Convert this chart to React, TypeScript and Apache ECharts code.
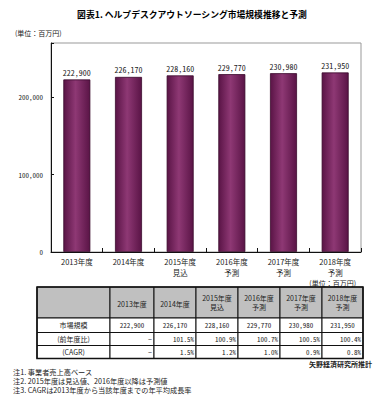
import React, { useEffect, useRef } from "react";
import * as echarts from "echarts";

const titleText = "図表1. ヘルプデスクアウトソーシング市場規模推移と予測";
const unitText = "(単位：百万円)";
const categories = ["2013年度", "2014年度", "2015年度", "2016年度", "2017年度", "2018年度"];
const subLabels = ["", "", "見込", "予測", "予測", "予測"];
const marketSize = [222900, 226170, 228160, 229770, 230980, 231950];
const yoyRatio = ["−", "101.5%", "100.9%", "100.7%", "100.5%", "100.4%"];
const cagrValues = ["−", "1.5%", "1.2%", "1.0%", "0.9%", "0.8%"];
const rowLabels = ["市場規模", "(前年度比)", "(CAGR)"];
const yMax = 270000;
const yInterval = 100000;
const sourceText = "矢野経済研究所推計";
const notes = [
  "注1. 事業者売上高ベース",
  "注2. 2015年度は見込値、2016年度以降は予測値",
  "注3. CAGRは2013年度から当該年度までの年平均成長率",
];

const JP = '"Noto Sans CJK JP", sans-serif';
const MONO = '"Noto Sans Mono CJK JP", "Liberation Mono", monospace';
const fmt = (v: number) => v.toLocaleString("en-US");

function buildTable() {
  const els: any[] = [];
  const colX = [37, 110, 154, 196, 238, 280, 322, 363];
  const rowY = [287, 318, 332.5, 345.5, 358.5];
  const txt = (text: string, x: number, y: number, font: string, align = "center") => ({
    type: "text",
    x,
    y,
    silent: true,
    style: {
      text,
      font,
      fill: "#222",
      align,
      verticalAlign: "middle",
      textAlign: align,
      textVerticalAlign: "middle",
    },
  });
  for (let r = 0; r < rowY.length - 1; r++) {
    for (let c = 0; c < colX.length - 1; c++) {
      els.push({
        type: "rect",
        silent: true,
        shape: { x: colX[c], y: rowY[r], width: colX[c + 1] - colX[c], height: rowY[r + 1] - rowY[r] },
        style: { fill: r === 0 ? "#c0c0c0" : "#ffffff", stroke: "#111", lineWidth: 1 },
      });
    }
  }
  els.push({
    type: "rect",
    silent: true,
    shape: { x: colX[0], y: rowY[0], width: colX[7] - colX[0], height: rowY[4] - rowY[0] },
    style: { fill: "none", stroke: "#111", lineWidth: 1.6 },
  });
  const mid = (a: number, b: number) => (a + b) / 2;
  const hMid = mid(rowY[0], rowY[1]);
  categories.forEach((cat, i) => {
    const cx = mid(colX[i + 1], colX[i + 2]);
    if (subLabels[i]) {
      els.push(txt(cat, cx, hMid - 4.5, `7px ${JP}`));
      els.push(txt(subLabels[i], cx, hMid + 4.5, `7px ${JP}`));
    } else {
      els.push(txt(cat, cx, hMid + 1, `7px ${JP}`));
    }
  });
  rowLabels.forEach((l, r) => {
    els.push(txt(l, mid(colX[0], colX[1]), mid(rowY[r + 1], rowY[r + 2]), `7px ${JP}`));
  });
  marketSize.forEach((v, i) => {
    els.push(txt(fmt(v), mid(colX[i + 1], colX[i + 2]), mid(rowY[1], rowY[2]), `7px ${MONO}`));
  });
  yoyRatio.forEach((v, i) => {
    els.push(txt(v, colX[i + 2] - 2, mid(rowY[2], rowY[3]), `7px ${MONO}`, "right"));
  });
  cagrValues.forEach((v, i) => {
    els.push(txt(v, colX[i + 2] - 2, mid(rowY[3], rowY[4]), `7px ${MONO}`, "right"));
  });
  return els;
}

export default function App() {
  const ref = useRef<HTMLDivElement>(null);
  useEffect(() => {
    document.body.style.margin = "0";
    if (!ref.current) return;
    const chart = echarts.init(ref.current, null, { renderer: "svg" });
    const barColor = new echarts.graphic.LinearGradient(0, 0, 1, 0, [
      { offset: 0, color: "#5a1446" },
      { offset: 0.45, color: "#8e3874" },
      { offset: 1, color: "#5a1446" },
    ]);
    const simpleText = (text: string, x: number, y: number, font: string, align = "left", fill = "#222") => ({
      type: "text",
      x,
      y,
      silent: true,
      style: { text, font, fill, align, verticalAlign: "middle", textAlign: align, textVerticalAlign: "middle" },
    });
    chart.setOption({
      animation: false,
      backgroundColor: "#ffffff",
      grid: {
        left: 51,
        right: 22,
        top: 43,
        bottom: 148,
        show: true,
        borderColor: "#999",
        borderWidth: 1,
        backgroundColor: "transparent",
      },
      xAxis: [
        {
          type: "category",
          data: categories,
          axisLine: { lineStyle: { color: "#111", width: 1 } },
          axisTick: { show: true, inside: true, length: 4, alignWithLabel: false, lineStyle: { color: "#111" } },
          axisLabel: { color: "#222", fontSize: 7.5, fontFamily: JP, margin: 5, lineHeight: 8 },
        },
        {
          type: "category",
          position: "bottom",
          data: subLabels,
          axisLine: { show: false },
          axisTick: { show: false },
          axisLabel: { color: "#222", fontSize: 7.5, fontFamily: JP, margin: 16, lineHeight: 8 },
        },
      ],
      yAxis: {
        type: "value",
        min: 0,
        max: yMax,
        interval: yInterval,
        axisLine: { show: true, lineStyle: { color: "#111", width: 1 } },
        axisTick: { show: true, inside: true, length: 3, lineStyle: { color: "#111" } },
        splitLine: { show: false },
        axisLabel: {
          color: "#222",
          fontSize: 7,
          fontFamily: MONO,
          margin: 8,
          formatter: (v: number) => (v % yInterval === 0 ? fmt(v) : ""),
        },
      },
      series: [
        {
          type: "bar",
          xAxisIndex: 0,
          data: marketSize,
          barWidth: 27,
          itemStyle: { color: barColor, borderColor: "#3a0a2c", borderWidth: 0.8 },
          label: {
            show: true,
            position: "top",
            distance: 3,
            color: "#222",
            fontSize: 8,
            fontFamily: MONO,
            formatter: (p: any) => fmt(p.value),
          },
        },
      ],
      graphic: [
        {
          type: "text",
          x: 192,
          y: 14,
          silent: true,
          style: {
            text: titleText,
            font: `bold 8.8px ${JP}`,
            fill: "#000",
            align: "center",
            verticalAlign: "middle",
            textAlign: "center",
            textVerticalAlign: "middle",
          },
        },
        simpleText(unitText, 15, 33, `7px ${JP}`),
        simpleText(unitText, 356, 283, `7px ${JP}`, "right"),
        simpleText(sourceText, 372, 364, `bold 7px ${JP}`, "right"),
        ...notes.map((n, i) => simpleText(n, 13, 372 + i * 9, `7.2px ${JP}`)),
        ...buildTable(),
      ],
    });
    return () => chart.dispose();
  }, []);
  return <div ref={ref} style={{ width: 383, height: 400 }} />;
}
